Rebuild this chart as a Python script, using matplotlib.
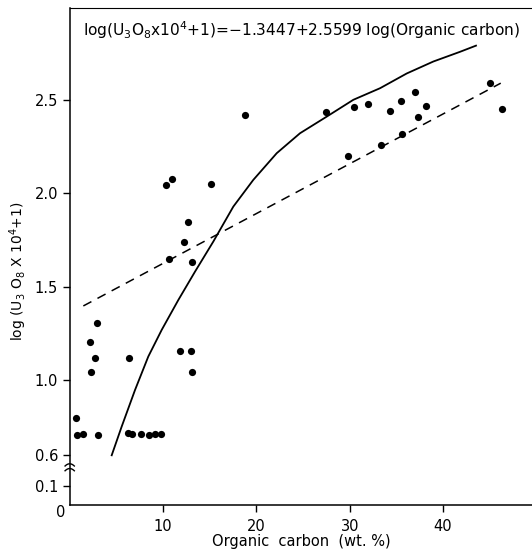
import numpy as np
import matplotlib
matplotlib.use("Agg")
import matplotlib.pyplot as plt
import matplotlib.transforms as mtransforms

# organic carbon (wt. %) and log(U3O8 x 10^4 + 1) for each sample
carbon = [2.89, 2.14, 2.71, 2.28, 6.39, 11.82, 13.00, 13.08,
          0.68, 0.78, 1.46, 3.00, 6.21, 6.71, 7.59, 8.52, 9.17, 9.73,
          18.73, 10.99, 10.35, 15.09, 12.68, 12.23, 10.66, 13.08,
          27.46, 30.41, 31.91, 34.34, 35.52, 37.02, 38.21, 37.37,
          35.58, 33.33, 29.79, 45.03, 46.32]
log_u = [1.304, 1.205, 1.116, 1.044, 1.119, 1.153, 1.153, 1.041,
         0.795, 0.705, 0.711, 0.705, 0.713, 0.711, 0.711, 0.707, 0.710, 0.710,
         2.419, 2.078, 2.046, 2.049, 1.845, 1.741, 1.646, 1.634,
         2.434, 2.464, 2.478, 2.442, 2.494, 2.540, 2.466, 2.409,
         2.319, 2.260, 2.201, 2.592, 2.452]

# fitted curve as drawn on the figure
curve_x = [4.50, 5.57, 7.00, 8.42, 9.86, 11.64, 13.43, 15.39, 17.53, 19.67,
           22.18, 24.68, 27.54, 30.39, 33.25, 36.11, 38.96, 41.82, 43.53]
curve_y = [0.589, 0.750, 0.946, 1.125, 1.268, 1.428, 1.580, 1.741, 1.928, 2.071,
           2.214, 2.321, 2.410, 2.500, 2.562, 2.641, 2.705, 2.757, 2.790]

# linear trend (dashed)
trend_x = [1.46, 46.18]
trend_y = [1.396, 2.589]

xticks = [10, 20, 30, 40]
yticks = [0.1, 0.6, 1.0, 1.5, 2.0, 2.5]
ytick_labels = ["0.1", "0.6", "1.0", "1.5", "2.0", "2.5"]

equation = r"log(U$_3$O$_8$x10$^4$+1)=$-$1.3447+2.5599 log(Organic carbon)"


# broken y axis: 0-0.1 normal, 0.1-0.6 squeezed, above 0.6 normal
def fwd(v):
    v = np.asarray(v, dtype=float)
    return np.where(v >= 0.6, v,
                    np.where(v >= 0.1, 0.43 + (v - 0.1) * 0.34, 0.33 + v))


def inv(t):
    t = np.asarray(t, dtype=float)
    return np.where(t >= 0.6, t,
                    np.where(t >= 0.43, 0.1 + (t - 0.43) / 0.34, t - 0.33))


fig = plt.figure(figsize=(5.32, 5.53), dpi=100)
ax = fig.add_axes([0.131, 0.0868, 0.869, 0.8982])
ax.set_yscale("function", functions=(fwd, inv))

ax.plot(curve_x, curve_y, color="black", lw=1.3, solid_joinstyle="round")
ax.plot(trend_x, trend_y, color="black", lw=1.1, dashes=(6, 4.5))
ax.plot(carbon, log_u, "o", color="black", ms=5.2, mew=0)

ax.set_xlim(0, 49.53)
ax.set_ylim(0, 2.99)

ax.set_xticks(xticks)
ax.set_xticklabels([str(t) for t in xticks], fontsize=10.5)
ax.set_yticks(yticks)
ax.set_yticklabels(ytick_labels, fontsize=10.5)
ax.tick_params(axis="both", direction="out", length=5, width=1, color="black")
ax.tick_params(axis="x", pad=5)
ax.minorticks_off()

for side in ["left", "bottom", "top"]:
    ax.spines[side].set_linewidth(1.1)
ax.spines["top"].set_linewidth(0.8)
ax.spines["right"].set_visible(False)

# corner "0"
ax.text(-1.0, 0, "0", ha="center", va="top", fontsize=10.5)

# axis break marks
trans = mtransforms.blended_transform_factory(ax.transAxes, ax.transData)
s = np.linspace(-1, 1, 15)
for yb in [0.42, 0.345]:
    ax.plot(0.01 * s, yb + 0.035 * (1 - s ** 2), color="black", lw=1,
            transform=trans, clip_on=False)

ax.text(0.028, 0.955, equation, transform=ax.transAxes, fontsize=11.1,
        ha="left", va="center")

ax.set_xlabel("Organic  carbon  (wt. %)", fontsize=10.5, labelpad=0)
fig.text(0.034, 0.51, r"log (U$_3$ O$_8$ X 10$^4$+1)", rotation=90,
         ha="center", va="center", fontsize=10)

fig.savefig("out.png", dpi=100)
